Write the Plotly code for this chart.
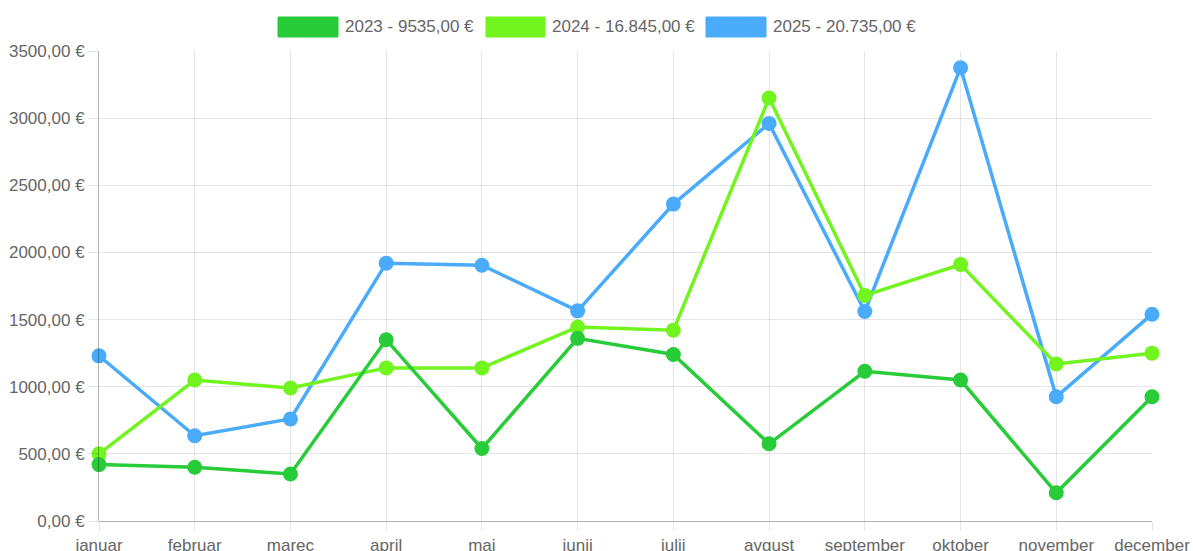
import plotly.graph_objects as go

months = ["januar", "februar", "marec", "april", "maj", "junij", "julij",
          "avgust", "september", "oktober", "november", "december"]
vals_2023 = [420, 400, 350, 1350, 540, 1360, 1240, 575, 1115, 1050, 210, 925]
vals_2024 = [500, 1050, 990, 1140, 1140, 1445, 1420, 3150, 1680, 1910, 1170, 1250]
vals_2025 = [1230, 635, 760, 1920, 1905, 1565, 2360, 2960, 1560, 3375, 925, 1540]
series_names = ["2023 - 9535,00 €", "2024 - 16.845,00 €", "2025 - 20.735,00 €"]
y_ticks = [0, 500, 1000, 1500, 2000, 2500, 3000, 3500]
y_ticktext = [f"{v},00 €" for v in y_ticks]

colors = ["#27cc38", "#72f51f", "#4aabfb"]
series = [vals_2023, vals_2024, vals_2025]

W, H = 1193, 551
ML, MR, MT, MB = 99, 41, 51, 30
PW = W - ML - MR
PH = H - MT - MB

fig = go.Figure()
for i in [2, 1, 0]:
    fig.add_trace(go.Scatter(
        x=months, y=series[i], mode="lines+markers", name=series_names[i],
        line=dict(color=colors[i], width=3.5),
        marker=dict(color=colors[i], size=15),
        cliponaxis=False, showlegend=False,
    ))

FONT = "Liberation Sans, Arial, sans-serif"
TXT = "#666666"

# custom legend: rectangular swatches + text (positions in screen pixels)
def px2x(p):
    return (p - ML) / PW

def py2y(p):
    return (H - MB - p) / PH

legend_swatches = [(278, 338), (486, 545), (706, 766)]
shapes = []
annotations = []
for (x0, x1), c, name in zip(legend_swatches, colors, series_names):
    shapes.append(dict(type="rect", xref="paper", yref="paper",
                       x0=px2x(x0), x1=px2x(x1), y0=py2y(37), y1=py2y(17),
                       fillcolor=c, line=dict(color=c, width=1)))
    annotations.append(dict(xref="paper", yref="paper", x=px2x(x1 + 5), y=py2y(27),
                            xanchor="left", yanchor="middle", showarrow=False,
                            text=name, font=dict(family=FONT, size=17, color=TXT)))

fig.update_layout(
    width=W, height=H,
    margin=dict(l=ML, r=MR, t=MT, b=MB, autoexpand=False),
    plot_bgcolor="white", paper_bgcolor="white",
    shapes=shapes, annotations=annotations,
    showlegend=False,
    font=dict(family=FONT, size=17, color=TXT),
)
fig.update_xaxes(
    range=[0, 11], showgrid=True, gridcolor="rgba(0,0,0,0.1)", gridwidth=1,
    showline=False, zeroline=False, automargin=False,
    ticks="outside", ticklen=9, tickcolor="rgba(0,0,0,0.1)",
    tickfont=dict(family=FONT, size=17, color=TXT),
)
fig.update_yaxes(
    range=[0, 3500], tickvals=y_ticks, ticktext=y_ticktext, automargin=False,
    showgrid=True, gridcolor="rgba(0,0,0,0.1)", gridwidth=1,
    showline=True, linecolor="rgba(0,0,0,0.3)", linewidth=1,
    zeroline=True, zerolinecolor="rgba(0,0,0,0.3)", zerolinewidth=1,
    ticks="outside", ticklen=10, tickcolor="rgba(0,0,0,0.1)",
    tickfont=dict(family=FONT, size=17, color=TXT),
)

fig.write_html(
    "out.html",
    config={"displayModeBar": False},
    post_script="document.body.style.margin='0';document.body.style.overflow='hidden';",
)
